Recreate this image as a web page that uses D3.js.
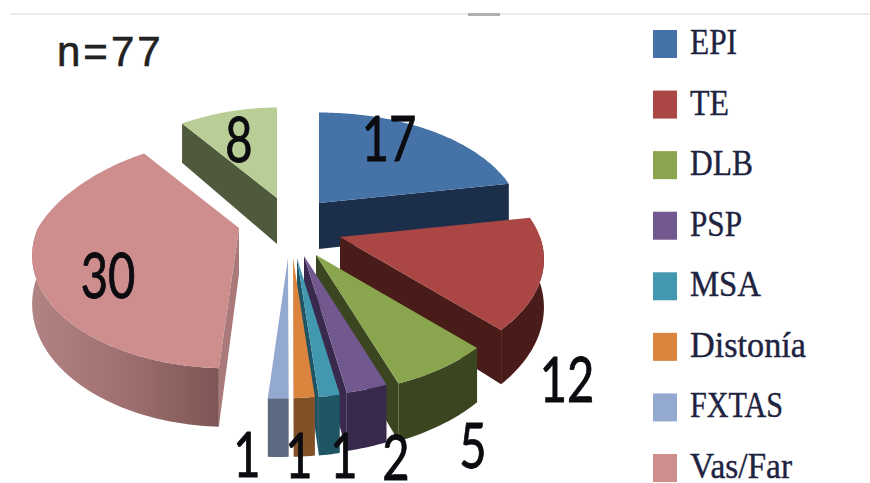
<!DOCTYPE html>
<html><head><meta charset="utf-8">
<script src="https://cdn.jsdelivr.net/npm/d3@7/dist/d3.min.js"></script>
<style>html,body{margin:0;padding:0;background:#fff}svg{display:block}</style>
</head><body><div id="chart"></div>
<script>
// Diagnoses in the cohort, clockwise from twelve o'clock
const values = [17, 12, 5, 2, 1, 1, 1, 30, 8];
const legendLabels = ["EPI", "TE", "DLB", "PSP", "MSA", "Distonía", "FXTAS", "Vas/Far"];
const valueLabels = ["17", "12", "5", "2", "1", "1", "1", "30", "8"];
const topColors = ["#4572a7", "#aa4643", "#89a54e", "#71588f", "#4198af", "#db843d", "#93a9cf", "#ce8e8d", "#b9cd96"];
const wallColors = ["#1c2f4a", "#4a1c19", "#3b4520", "#39294d", "#1e5464", "#835128", "#5c6b82", "#aa7a7a", "#4f5a3d"];
const sampleSize = "n=77";

// Layout: exploded position of every wedge's tip, where its number sits, and set widths of the legend texts
const wedgeTips = [[319,203],[340,237],[316,255],[304,256],[297,258],[293,258],[288,258],[239,228],[277,198]];
const labelSpots = [[389,161],[567,402],[473,468],[396,480],[247,477],[299,478],[344,478],[108,298],[239,162]];
const legendWidths = [47, 39, 63, 52, 71, 116, 93, 102];

const width = 870, height = 483;
const radiusRight = 205, radiusLeft = 196, squash = 110, perspective = 0.216, lean = 10, backLeftPull = 16, thickness = 46;
const paintOrder = [8, 0, 7, 1, 2, 3, 4, 5, 6];

const svg = d3.select("#chart").append("svg").attr("width", width).attr("height", height);

// Thin rule along the top with its darker stretch
svg.append("line").attr("x1", 10).attr("x2", 870).attr("y1", 14).attr("y2", 14)
  .attr("stroke", "#ececec").attr("stroke-width", 2);
svg.append("line").attr("x1", 468).attr("x2", 500).attr("y1", 14.5).attr("y2", 14.5)
  .attr("stroke", "#b0b0b0").attr("stroke-width", 3);

const defs = svg.append("defs");
const grad = defs.append("linearGradient").attr("id", "vasWall")
  .attr("gradientUnits", "userSpaceOnUse")
  .attr("x1", 32 - wedgeTips[7][0]).attr("x2", 217 - wedgeTips[7][0]).attr("y1", 0).attr("y2", 0);
grad.append("stop").attr("offset", 0).attr("stop-color", "#b28383");
grad.append("stop").attr("offset", 0.5).attr("stop-color", "#a07070");
grad.append("stop").attr("offset", 1).attr("stop-color", "#7e5655");

// Perspective projection of a point on the pie disc, relative to the wedge tip
function project(theta) {
  const across = Math.sin(theta), back = Math.cos(theta);
  const f = 1 / (1 + perspective * back);
  const r = across < 0 ? radiusLeft : radiusRight;
  const pull = across < 0 && back > 0 ? backLeftPull * -across * back : 0;
  return {
    x: r * across * f - lean * (1 - back) / 2 + pull,
    y: -squash * back * f,
    depth: thickness * f
  };
}

const pie = d3.pie().sort(null).value(d => d).startAngle(0).endAngle(2 * Math.PI);
const arcs = pie(values);
const line = d3.line().x(d => d[0]).y(d => d[1]);

const rimPoints = (a, b) => {
  const n = Math.max(2, Math.ceil((b - a) / 0.02));
  return d3.range(n + 1).map(i => project(a + (b - a) * i / n));
};

const wedges = svg.append("g").selectAll("g").data(paintOrder).join("g")
  .attr("transform", i => `translate(${wedgeTips[i][0]},${wedgeTips[i][1]})`);

wedges.each(function (i) {
  const g = d3.select(this), a = arcs[i].startAngle, b = arcs[i].endAngle;

  // Radial cut faces that turn toward the viewer
  const radialFace = theta => {
    const p = project(theta);
    g.append("path").attr("fill", wallColors[i]).attr("d", line([
      [0, 0], [p.x, p.y], [p.x, p.y + p.depth], [0, thickness]
    ]) + "Z");
  };
  if (Math.sin(a) < -0.03) radialFace(a);
  if (Math.sin(b) > 0.02) radialFace(b);

  // Curved outer wall on the near half of the disc
  const wa = Math.max(a, Math.PI / 2), wb = Math.min(b, 3 * Math.PI / 2);
  if (wb > wa) {
    const rim = rimPoints(wa, wb);
    const outline = rim.map(p => [p.x, p.y])
      .concat(rim.slice().reverse().map(p => [p.x, p.y + p.depth]));
    g.append("path").attr("d", line(outline) + "Z")
      .attr("fill", i === 7 ? "url(#vasWall)" : wallColors[i]);
  }

  // Top face
  const top = [[0, 0]].concat(rimPoints(a, b).map(p => [p.x, p.y]));
  g.append("path").attr("d", line(top) + "Z").attr("fill", topColors[i]);
});

// Value labels
svg.append("g").selectAll("text").data(valueLabels).join("text")
  .attr("transform", (d, i) => `translate(${labelSpots[i][0]},${labelSpots[i][1]}) scale(0.76,1)`)
  .attr("text-anchor", "middle")
  .attr("font-family", "Lato, sans-serif")
  .attr("font-size", 62)
  .attr("fill", "#0b0b10").attr("stroke", "#0b0b10").attr("stroke-width", 0.9)
  .text(d => d);

svg.append("text").attr("x", 57).attr("y", 66)
  .attr("font-family", "'Liberation Sans', Arial, sans-serif")
  .attr("font-size", 42).attr("letter-spacing", 3)
  .attr("fill", "#222").attr("stroke", "#222").attr("stroke-width", 0.6)
  .text(sampleSize);

// Legend column
const legendY = d3.scalePoint().domain(legendLabels).range([44, 468]);
const legend = svg.append("g").selectAll("g").data(legendLabels).join("g")
  .attr("transform", d => `translate(653,${legendY(d)})`);
legend.append("rect").attr("y", -14).attr("width", 24).attr("height", 28)
  .attr("fill", (d, i) => topColors[i]);
legend.append("text")
  .attr("transform", "translate(37,10) scale(1,1.15)")
  .attr("font-family", "'Liberation Serif', 'Times New Roman', serif")
  .attr("font-size", 32)
  .attr("textLength", (d, i) => legendWidths[i]).attr("lengthAdjust", "spacingAndGlyphs")
  .attr("fill", "#1d2340").attr("stroke", "#1d2340").attr("stroke-width", 0.35)
  .text(d => d);
</script></body></html>
